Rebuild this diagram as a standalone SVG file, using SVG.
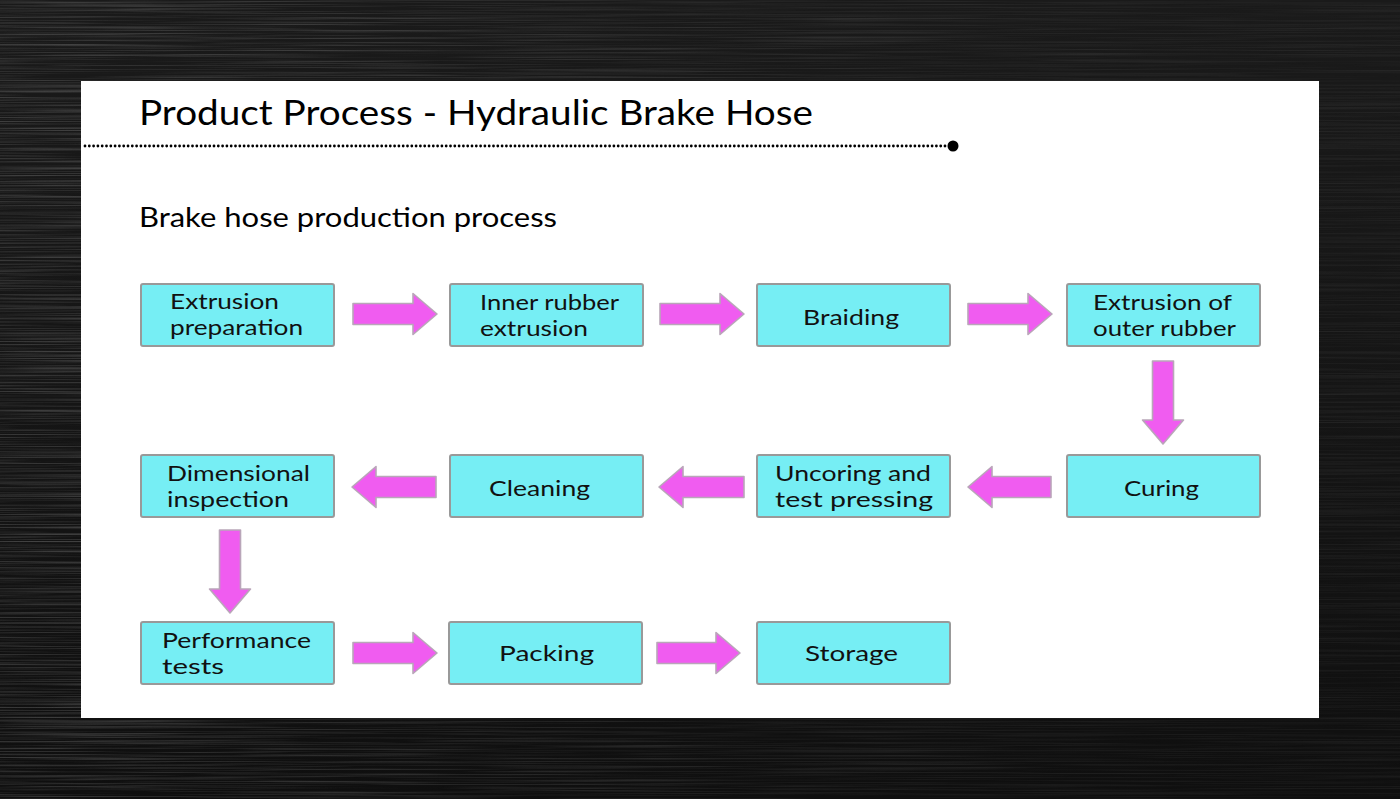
<svg xmlns="http://www.w3.org/2000/svg" width="1400" height="799" viewBox="0 0 1400 799">
<style>
.box{fill:#76EEF4;stroke:#999;stroke-width:2}
.t{font-family:Lato,"Noto Sans",sans-serif;font-size:21.5px;fill:#111}
.arr{fill:#F05CF0;stroke:#B9A6B9;stroke-width:1.6;stroke-linejoin:round}
.h{font-family:Lato,"Noto Sans",sans-serif;fill:#000}
</style>
<defs>
<filter id="brush" x="0" y="0" width="100%" height="100%">
<feTurbulence type="fractalNoise" baseFrequency="0.004 0.7" numOctaves="3" seed="7"/>
<feColorMatrix type="matrix" values="0 0 0 0 0.42  0 0 0 0 0.42  0 0 0 0 0.42  1 0 0 0 -0.42"/>
</filter>
<linearGradient id="fadeH" x1="0" y1="0" x2="1" y2="0">
<stop offset="0" stop-color="#fff" stop-opacity="0.75"/>
<stop offset="0.5" stop-color="#fff" stop-opacity="0.35"/>
<stop offset="1" stop-color="#fff" stop-opacity="0.2"/>
</linearGradient>
<mask id="m"><rect width="1400" height="799" fill="url(#fadeH)"/></mask>
<linearGradient id="bgfade" x1="0" y1="0" x2="0" y2="1">
<stop offset="0" stop-color="#1a1a1a"/>
<stop offset="0.5" stop-color="#151515"/>
<stop offset="1" stop-color="#0f0f0f"/>
</linearGradient>
</defs>
<rect width="1400" height="799" fill="url(#bgfade)"/>
<g mask="url(#m)"><rect width="1400" height="799" filter="url(#brush)"/></g>
<rect x="81" y="81" width="1238" height="637" fill="#fff"/>
<text class="h" x="139" y="125" font-size="35" textLength="674" lengthAdjust="spacingAndGlyphs">Product Process - Hydraulic Brake Hose</text>
<line x1="85" y1="146" x2="948" y2="146" stroke="#000" stroke-width="2.8" stroke-linecap="round" stroke-dasharray="0 4.3"/>
<circle cx="953" cy="146" r="5.5" fill="#000"/>
<text class="h" x="139" y="227" font-size="27" textLength="418" lengthAdjust="spacingAndGlyphs">Brake hose production process</text>

<g id="connectors">
<path class="arr" d="M353,303.5 H413 V293.5 L437,314 L413,334.5 V324.5 H353 Z"/>
<path class="arr" d="M660,303.5 H720 V293.5 L744,314 L720,334.5 V324.5 H660 Z"/>
<path class="arr" d="M968,303.5 H1028 V293.5 L1052,314 L1028,334.5 V324.5 H968 Z"/>
<path class="arr" d="M1152.5,361 V420 H1142.5 L1163,444 L1183.5,420 H1173.5 V361 Z"/>
<path class="arr" d="M1051,476.5 H992 V466.5 L968,487 L992,507.5 V497.5 H1051 Z"/>
<path class="arr" d="M744,476.5 H683 V466.5 L659,487 L683,507.5 V497.5 H744 Z"/>
<path class="arr" d="M436,476.5 H376 V466.5 L352,487 L376,507.5 V497.5 H436 Z"/>
<path class="arr" d="M219.5,530 V589 H209.5 L230,613 L250.5,589 H240.5 V530 Z"/>
<path class="arr" d="M353,642.5 H413 V632.5 L437,653 L413,673.5 V663.5 H353 Z"/>
<path class="arr" d="M657,642.5 H716 V632.5 L740,653 L716,673.5 V663.5 H657 Z"/>
</g>

<g id="n1"><rect class="box" x="141" y="284" width="193" height="62" rx="2"/>
<text class="t" x="170" y="309" textLength="109" lengthAdjust="spacingAndGlyphs">Extrusion</text>
<text class="t" x="170" y="335" textLength="133" lengthAdjust="spacingAndGlyphs">preparation</text></g>
<g id="n2"><rect class="box" x="450" y="284" width="193" height="62" rx="2"/>
<text class="t" x="480" y="310" textLength="139" lengthAdjust="spacingAndGlyphs">Inner rubber</text>
<text class="t" x="480" y="336" textLength="108" lengthAdjust="spacingAndGlyphs">extrusion</text></g>
<g id="n3"><rect class="box" x="757" y="284" width="193" height="62" rx="2"/>
<text class="t" x="803" y="325" textLength="96" lengthAdjust="spacingAndGlyphs">Braiding</text></g>
<g id="n4"><rect class="box" x="1067" y="284" width="193" height="62" rx="2"/>
<text class="t" x="1093" y="310" textLength="139" lengthAdjust="spacingAndGlyphs">Extrusion of</text>
<text class="t" x="1093" y="336" textLength="143" lengthAdjust="spacingAndGlyphs">outer rubber</text></g>

<g id="n5"><rect class="box" x="1067" y="455" width="193" height="62" rx="2"/>
<text class="t" x="1124" y="496" textLength="75" lengthAdjust="spacingAndGlyphs">Curing</text></g>
<g id="n6"><rect class="box" x="757" y="455" width="193" height="62" rx="2"/>
<text class="t" x="775" y="481" textLength="156" lengthAdjust="spacingAndGlyphs">Uncoring and</text>
<text class="t" x="775" y="507" textLength="158" lengthAdjust="spacingAndGlyphs">test pressing</text></g>
<g id="n7"><rect class="box" x="450" y="455" width="193" height="62" rx="2"/>
<text class="t" x="489" y="496" textLength="101" lengthAdjust="spacingAndGlyphs">Cleaning</text></g>
<g id="n8"><rect class="box" x="141" y="455" width="193" height="62" rx="2"/>
<text class="t" x="167" y="481" textLength="143" lengthAdjust="spacingAndGlyphs">Dimensional</text>
<text class="t" x="167" y="507" textLength="122" lengthAdjust="spacingAndGlyphs">inspection</text></g>

<g id="n9"><rect class="box" x="141" y="622" width="193" height="62" rx="2"/>
<text class="t" x="162" y="648" textLength="149" lengthAdjust="spacingAndGlyphs">Performance</text>
<text class="t" x="162" y="674" textLength="62" lengthAdjust="spacingAndGlyphs">tests</text></g>
<g id="n10"><rect class="box" x="449" y="622" width="193" height="62" rx="2"/>
<text class="t" x="499" y="661" textLength="95" lengthAdjust="spacingAndGlyphs">Packing</text></g>
<g id="n11"><rect class="box" x="757" y="622" width="193" height="62" rx="2"/>
<text class="t" x="805" y="661" textLength="93" lengthAdjust="spacingAndGlyphs">Storage</text></g>
</svg>
